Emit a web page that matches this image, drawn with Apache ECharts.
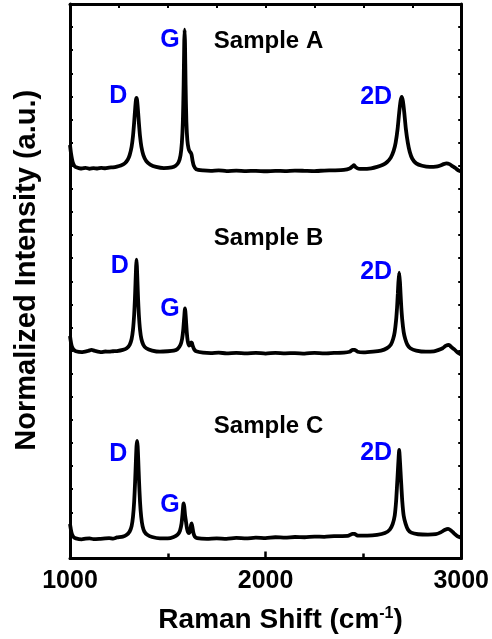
<!DOCTYPE html>
<html>
<head>
<meta charset="utf-8">
<title>Raman spectra</title>
<script src="https://cdn.jsdelivr.net/npm/echarts@6/dist/echarts.min.js"></script>
<style>
  html, body { margin: 0; padding: 0; background: #fff; }
  #chart { width: 492px; height: 639px; }
</style>
</head>
<body>
<div id="chart"></div>
<script>
// Raman spectra of three samples, each stacked above its own baseline offset.
// Points are [Raman shift (cm-1), intensity above the sample's baseline (a.u.)].
const sampleNames = ['Sample A', 'Sample B', 'Sample C'];
const offsets = [16.9, 8.95, 0.85];

const specA = [
  [1000, 1.0], [1005, 0.65], [1010, 0.4], [1015, 0.22], [1022, 0.1], [1030, 0.04],
  [1045, 0.0], [1060, -0.02], [1080, 0.01], [1100, -0.03], [1120, 0.0], [1140, -0.02],
  [1160, 0.01], [1180, -0.01], [1200, 0.02], [1220, 0.03], [1240, 0.06], [1260, 0.11],
  [1280, 0.2], [1295, 0.36], [1305, 0.56], [1315, 0.92], [1322, 1.38], [1328, 1.98],
  [1333, 2.55], [1337, 2.93], [1340, 3.04], [1343, 2.93], [1347, 2.55], [1352, 1.98],
  [1358, 1.38], [1365, 0.92], [1375, 0.56], [1390, 0.3], [1410, 0.15], [1440, 0.05],
  [1480, 0.0], [1520, 0.03], [1540, 0.1], [1555, 0.25], [1565, 0.55], [1572, 1.1],
  [1577, 2.0], [1581, 3.6], [1584, 5.4], [1586, 5.99], [1588, 5.4], [1591, 3.6],
  [1595, 2.0], [1600, 1.2], [1606, 0.85], [1612, 0.72], [1618, 0.66], [1622, 0.56],
  [1627, 0.3], [1633, 0.1], [1645, -0.05], [1680, -0.1], [1720, -0.12], [1760, -0.1],
  [1800, -0.13], [1850, -0.11], [1900, -0.13], [1950, -0.12], [2000, -0.14], [2050, -0.12],
  [2100, -0.13], [2150, -0.11], [2200, -0.12], [2250, -0.13], [2300, -0.11], [2350, -0.1],
  [2400, -0.08], [2430, -0.02], [2445, 0.08], [2452, 0.13], [2460, 0.04], [2475, -0.03],
  [2500, -0.04], [2540, -0.01], [2570, 0.05], [2600, 0.14], [2620, 0.25], [2640, 0.45],
  [2655, 0.75], [2665, 1.1], [2675, 1.7], [2683, 2.4], [2690, 2.9], [2696, 3.08],
  [2702, 2.9], [2709, 2.4], [2717, 1.7], [2727, 1.1], [2737, 0.7], [2750, 0.4],
  [2770, 0.2], [2800, 0.1], [2840, 0.05], [2870, 0.06], [2890, 0.1], [2910, 0.17],
  [2925, 0.2], [2940, 0.17], [2955, 0.08], [2970, 0.0], [2985, -0.1], [3000, -0.15]
];

const specB = [
  [1000, 0.68], [1005, 0.4], [1010, 0.22], [1018, 0.1], [1030, 0.02], [1060, -0.02],
  [1090, 0.03], [1110, 0.08], [1130, 0.03], [1160, -0.02], [1180, 0.01], [1200, 0.0],
  [1220, 0.02], [1240, 0.03], [1270, 0.08], [1290, 0.15], [1305, 0.3], [1315, 0.55],
  [1322, 0.95], [1328, 1.6], [1332, 2.3], [1335, 3.0], [1338, 3.7], [1340, 3.98],
  [1342, 3.7], [1345, 3.0], [1348, 2.3], [1352, 1.6], [1358, 0.95], [1365, 0.55],
  [1375, 0.3], [1390, 0.15], [1420, 0.05], [1460, 0.0], [1500, 0.02], [1530, 0.05],
  [1550, 0.12], [1565, 0.3], [1573, 0.55], [1579, 0.95], [1584, 1.5], [1588, 1.88],
  [1592, 1.5], [1597, 0.85], [1602, 0.45], [1608, 0.27], [1614, 0.3], [1619, 0.4],
  [1623, 0.38], [1628, 0.24], [1635, 0.1], [1645, 0.02], [1680, -0.04], [1720, -0.06],
  [1760, -0.04], [1800, -0.07], [1850, -0.05], [1900, -0.07], [1950, -0.05], [2000, -0.08],
  [2050, -0.05], [2100, -0.07], [2150, -0.06], [2200, -0.08], [2250, -0.05], [2300, -0.07],
  [2350, -0.05], [2400, -0.04], [2430, 0.0], [2445, 0.08], [2455, 0.08], [2470, 0.0],
  [2500, -0.03], [2550, 0.0], [2590, 0.05], [2620, 0.15], [2640, 0.3], [2652, 0.55],
  [2660, 0.85], [2667, 1.35], [2672, 1.9], [2676, 2.5], [2679, 3.0], [2683, 3.42],
  [2687, 3.0], [2690, 2.5], [2694, 1.9], [2699, 1.35], [2706, 0.85], [2714, 0.55],
  [2725, 0.3], [2740, 0.15], [2770, 0.05], [2820, 0.0], [2860, 0.02], [2885, 0.08],
  [2905, 0.15], [2920, 0.25], [2937, 0.3], [2950, 0.2], [2965, 0.1], [2980, -0.02],
  [3000, -0.12]
];

const specC = [
  [1000, 0.64], [1005, 0.38], [1010, 0.2], [1018, 0.08], [1030, 0.02], [1060, -0.02],
  [1080, 0.01], [1100, 0.02], [1120, -0.01], [1150, 0.0], [1180, 0.02], [1200, 0.03],
  [1220, 0.01], [1240, 0.06], [1270, 0.1], [1290, 0.18], [1305, 0.32], [1315, 0.55],
  [1322, 0.95], [1328, 1.6], [1333, 2.5], [1337, 3.4], [1340, 4.0], [1343, 4.24],
  [1346, 4.0], [1349, 3.4], [1353, 2.5], [1358, 1.6], [1364, 0.95], [1371, 0.55],
  [1380, 0.32], [1395, 0.18], [1420, 0.08], [1460, 0.02], [1500, 0.02], [1530, 0.08],
  [1550, 0.18], [1562, 0.35], [1570, 0.65], [1575, 1.05], [1579, 1.45], [1581, 1.53],
  [1584, 1.4], [1588, 1.05], [1592, 0.8], [1598, 0.45], [1603, 0.3], [1608, 0.25],
  [1614, 0.35], [1619, 0.6], [1622, 0.67], [1626, 0.5], [1631, 0.25], [1638, 0.1],
  [1650, 0.03], [1700, 0.0], [1750, 0.02], [1800, 0.0], [1850, 0.04], [1900, 0.02],
  [1950, 0.05], [2000, 0.03], [2050, 0.07], [2100, 0.05], [2150, 0.08], [2200, 0.07],
  [2250, 0.1], [2300, 0.09], [2350, 0.12], [2420, 0.13], [2445, 0.22], [2455, 0.22],
  [2470, 0.14], [2520, 0.14], [2570, 0.17], [2610, 0.25], [2635, 0.4], [2650, 0.65],
  [2660, 1.0], [2667, 1.6], [2672, 2.3], [2676, 2.9], [2680, 3.5], [2683, 3.85],
  [2686, 3.5], [2690, 2.9], [2694, 2.3], [2699, 1.6], [2706, 1.0], [2716, 0.65],
  [2728, 0.4], [2745, 0.27], [2780, 0.2], [2830, 0.18], [2870, 0.2], [2895, 0.28],
  [2915, 0.38], [2933, 0.43], [2948, 0.36], [2962, 0.25], [2980, 0.12], [3000, 0.05]
];

// Band annotations: [text, shift, y] in axis units
const bandLabels = [
  ['D', 1247, 20.0], ['G', 1511, 22.45], ['2D', 2565, 19.95],
  ['D', 1254, 12.65], ['G', 1511, 10.8], ['2D', 2565, 12.4],
  ['D', 1247, 4.5], ['G', 1511, 2.3], ['2D', 2565, 4.55]
];
const sampleLabelPos = [[2015, 22.4], [2015, 13.85], [2015, 5.7]];

const xTicks = { min: 1000, max: 3000, major: 1000, topStep: 250 };
const yRange = { min: 0, max: 24, step: 1 };

const FONT = "'Liberation Sans', Arial, Helvetica, sans-serif";
const spectra = [specA, specB, specC];

const lineSeries = spectra.map((spec, i) => ({
  name: sampleNames[i],
  type: 'line',
  xAxisIndex: 0,
  yAxisIndex: 0,
  showSymbol: false,
  symbol: 'none',
  smooth: 0.2,
  lineStyle: { color: '#000', width: 3.8 },
  data: spec.map(([x, v]) => [x, +(v + offsets[i]).toFixed(3)]),
  z: 3
}));

function textSeries(items, color, size) {
  return {
    type: 'scatter',
    symbolSize: 1,
    itemStyle: { color: 'rgba(0,0,0,0)', opacity: 1 },
    data: items,
    label: {
      show: true,
      position: 'inside',
      formatter: p => p.name,
      color,
      opacity: 1,
      fontFamily: FONT,
      fontWeight: 'bold',
      fontSize: size
    },
    emphasis: { disabled: true },
    silent: true,
    z: 5
  };
}

const bandSeries = textSeries(
  bandLabels.map(([t, x, y]) => ({ name: t, value: [x, y] })), '#0000ff', 25);
const sampleSeries = textSeries(
  sampleLabelPos.map((p, i) => ({ name: sampleNames[i], value: p })), '#000000', 24);

const axisLine = { show: true, onZero: false, lineStyle: { color: '#000', width: 3 } };

const chart = echarts.init(document.getElementById('chart'), null, { renderer: 'canvas' });
chart.setOption({
  animation: false,
  backgroundColor: '#fff',
  grid: { left: 70, right: 29, top: 4, bottom: 74, containLabel: false },
  xAxis: [
    {
      type: 'value',
      position: 'bottom',
      min: xTicks.min, max: xTicks.max, interval: xTicks.major,
      axisLine,
      axisTick: { show: true, inside: true, length: 7, lineStyle: { color: '#000', width: 2.5 } },
      minorTick: { show: true, splitNumber: 2, length: 5, lineStyle: { color: '#000', width: 2.5 } },
      splitLine: { show: false },
      axisLabel: {
        color: '#000', fontFamily: FONT, fontWeight: 'bold', fontSize: 25, margin: 10,
        formatter: v => String(v)
      },
      name: '{a|Raman Shift (cm}{s|-1}{a|)}',
      nameLocation: 'middle',
      nameGap: 47,
      nameTextStyle: {
        padding: [0, 0, 0, 30],
        rich: {
          a: { fontFamily: FONT, fontWeight: 'bold', fontSize: 28, color: '#000' },
          s: { fontFamily: FONT, fontWeight: 'bold', fontSize: 16, color: '#000', padding: [0, 0, 13, 0] }
        }
      }
    },
    {
      type: 'value',
      position: 'top',
      min: xTicks.min, max: xTicks.max, interval: xTicks.topStep,
      axisLine,
      axisTick: { show: true, inside: true, length: 4, lineStyle: { color: '#000', width: 2 } },
      splitLine: { show: false },
      axisLabel: { show: false }
    }
  ],
  yAxis: [
    {
      type: 'value',
      position: 'left',
      min: yRange.min, max: yRange.max, interval: yRange.step,
      axisLine,
      axisTick: { show: true, inside: true, length: 3, lineStyle: { color: '#000', width: 2 } },
      splitLine: { show: false },
      axisLabel: { show: false },
      name: 'Normalized Intensity (a.u.)',
      nameLocation: 'middle',
      nameRotate: 90,
      nameGap: 29,
      nameTextStyle: {
        fontFamily: FONT, fontWeight: 'bold', fontSize: 29, color: '#000',
        padding: [0, 0, 0, 22]
      }
    },
    {
      type: 'value',
      position: 'right',
      min: yRange.min, max: yRange.max, interval: yRange.step,
      axisLine,
      axisTick: { show: true, inside: true, length: 3, lineStyle: { color: '#000', width: 2 } },
      splitLine: { show: false },
      axisLabel: { show: false }
    }
  ],
  series: [...lineSeries, bandSeries, sampleSeries]
});
</script>
</body>
</html>
